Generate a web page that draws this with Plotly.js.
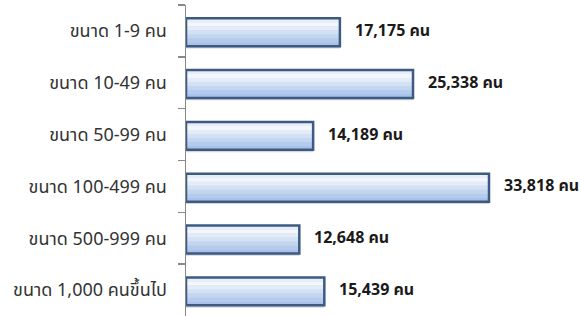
<!DOCTYPE html>
<html>
<head>
<meta charset="utf-8">
<script src="https://cdn.plot.ly/plotly-3.0.1.min.js"></script>
<style>html,body{margin:0;padding:0;background:#fff;}#chart{width:581px;height:316px;}</style>
</head>
<body>
<div id="chart"></div>
<script>
const categories = ["ขนาด 1-9 คน", "ขนาด 10-49 คน", "ขนาด 50-99 คน", "ขนาด 100-499 คน", "ขนาด 500-999 คน", "ขนาด 1,000 คนขึ้นไป"];
const values = [17175, 25338, 14189, 33818, 12648, 15439];
const unit = "คน";

const FONT = "Tahoma, 'Noto Sans Thai', 'Noto Sans', 'DejaVu Sans', sans-serif";
const barW = 0.54;
const barOff = -barW / 2 + 0.025;
const bandColors = ["#e6eefa", "#f3f7fd", "#e4ecf9", "#d3e1f5", "#c3d6f1", "#b4cbed", "#a8c2e9"];
const traces = [];
// shadow
traces.push({type: "bar", orientation: "h", y: categories, x: values, width: barW, offset: barOff + 0.045,
  marker: {color: "rgba(0,0,0,0.16)", line: {width: 0}}, hoverinfo: "skip", showlegend: false});
const n = bandColors.length;
bandColors.forEach((c, i) => {
  traces.push({type: "bar", orientation: "h", y: categories, x: values,
    width: barW / n, offset: barOff + i * barW / n,
    marker: {color: c, line: {width: 0}}, hoverinfo: "skip", showlegend: false});
});
traces.push({type: "bar", orientation: "h", y: categories, x: values, width: barW, offset: barOff,
  marker: {color: "rgba(0,0,0,0)", line: {color: "#3d5a82", width: 2.5}}, showlegend: false});

const annotations = categories.map((c, i) => ({
  x: values[i], y: c, xref: "x", yref: "y", xanchor: "left", yanchor: "middle",
  xshift: 13, showarrow: false,
  text: "<b>" + values[i].toLocaleString("en-US") + " " + unit + "</b>",
  font: {family: FONT, size: 16, color: "#1a1a1a"}
}));

const layout = {
  width: 581, height: 316,
  margin: {l: 186, r: 6, t: 5, b: 0},
  paper_bgcolor: "#fff", plot_bgcolor: "#fff",
  barmode: "overlay",
  xaxis: {range: [0, 43416], showgrid: false, zeroline: false, showticklabels: false, ticks: "", showline: false, fixedrange: true},
  yaxis: {type: "category", autorange: "reversed", showgrid: false, zeroline: false,
    showline: true, linecolor: "#888", linewidth: 1.5,
    ticks: "outside", tickson: "boundaries", ticklen: 7, tickcolor: "#888", tickwidth: 1.5,
    ticklabelstandoff: 14,
    tickfont: {family: FONT, size: 18, color: "#333"}},
  annotations: annotations,
  font: {family: FONT}
};
Plotly.newPlot("chart", traces, layout, {displayModeBar: false, staticPlot: true});
</script>
</body>
</html>
